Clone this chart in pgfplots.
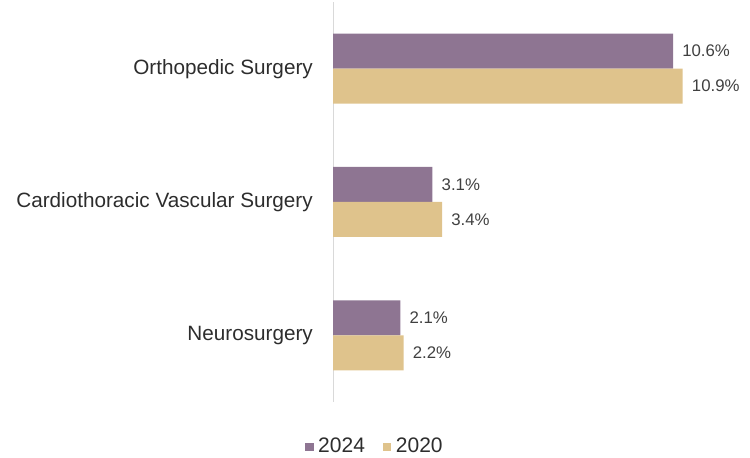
\documentclass[border=0pt]{standalone}
\usepackage{pgfplots}
\pgfplotsset{compat=1.18}
\usepackage{fontspec}
\setmainfont{Liberation Sans}
\definecolor{c24}{HTML}{8E7592}
\definecolor{c20}{HTML}{DFC38C}
\definecolor{txt}{HTML}{404040}
\definecolor{axl}{HTML}{D9D9D9}
\begin{document}
\begin{tikzpicture}[x=1pt,y=1pt]
\useasboundingbox (0,0) rectangle (750,458);
\begin{axis}[
  at={(333pt,56pt)}, anchor=south west,
  scale only axis, width=385pt, height=400pt,
  xmin=0, xmax=12, ymin=-0.5, ymax=2.5,
  xbar, bar width=35pt,
  axis x line=none,
  axis y line*=left,
  y axis line style={draw=axl, line width=1pt, -},
  ytick={0,1,2},
  yticklabels={Neurosurgery, Cardiothoracic Vascular Surgery, Orthopedic Surgery},
  major tick length=0pt,
  /pgf/number format/assume math mode=true,
  yticklabel style={font=\fontsize{20.7}{24}\selectfont, text=txt!70!black, inner sep=0pt, xshift=-20pt},
  nodes near coords={\pgfmathprintnumber[fixed,precision=1,fixed zerofill]{\pgfplotspointmeta}\%},
  nodes near coords style={font=\fontsize{16.8}{20}\selectfont, text=txt, anchor=west, inner sep=0pt, xshift=9pt},
  point meta=x,
  legend style={at={(axis description cs:0.109,-0.11)}, anchor=center, draw=none, fill=none, font=\fontsize{21}{24}\selectfont, text=txt!70!black,
    legend columns=2, /tikz/every even column/.append style={column sep=16pt}},
  legend image code/.code={\fill[#1] (0pt,-5pt) rectangle (8.5pt,3.5pt); \path (11pt,0pt);},
  clip=false,
]
\addplot[draw=none, fill=c24, bar shift=17.5pt] coordinates {(2.1,0) (3.1,1) (10.6,2)};
\addplot[draw=none, fill=c20, bar shift=-17.5pt] coordinates {(2.2,0) (3.4,1) (10.9,2)};
\legend{2024, 2020}
\end{axis}
\end{tikzpicture}
\end{document}
